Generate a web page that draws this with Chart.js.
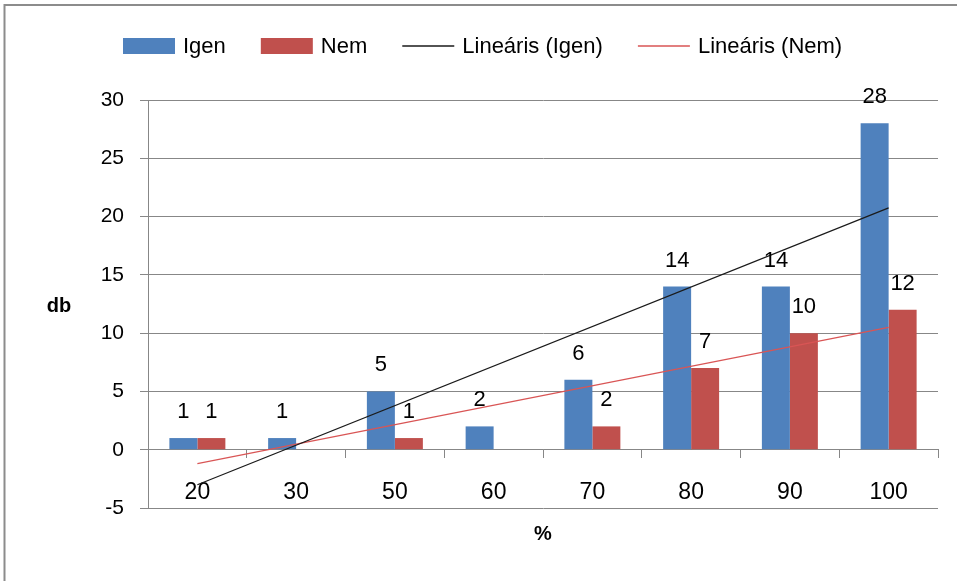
<!DOCTYPE html>
<html><head><meta charset="utf-8">
<script src="https://cdn.jsdelivr.net/npm/chart.js@4/dist/chart.umd.min.js"></script>
<style>html,body{margin:0;padding:0;background:#fff}#wrap{width:957px;height:581px;position:relative}</style>
</head><body><div id="wrap"><canvas id="c"></canvas></div>
<script>
const categories = ['20', '30', '50', '60', '70', '80', '90', '100'];
const igenValues = [1, 1, 5, 2, 6, 14, 14, 28];
const nemValues = [1, null, 1, null, 2, 7, 10, 12];
const trendIgen = [-3, null, null, null, null, null, null, 20.75];
const trendNem = [-1.2, null, null, null, null, null, null, 10.5];
const seriesNames = ['Igen', 'Nem', 'Lineáris (Igen)', 'Lineáris (Nem)'];
const yTicks = { min: -5, max: 30, step: 5 };
const yTitle = 'db';
const xTitle = '%';

const BLUE = '#4F81BD', RED = '#C0504D', BLACK = '#1a1a1a', TRED = '#D95555';
const FONT = '"Liberation Sans", Arial, sans-serif';

const framePlugin = {
  id: 'frame',
  beforeDraw(chart) {
    const ctx = chart.ctx;
    ctx.save();
    ctx.fillStyle = '#fff';
    ctx.fillRect(0, 0, chart.width, chart.height);
    ctx.strokeStyle = '#8c8c8c';
    ctx.lineWidth = 2;
    ctx.beginPath();
    ctx.moveTo(4.5, chart.height + 5);
    ctx.lineTo(4.5, 5);
    ctx.lineTo(chart.width + 5, 5);
    ctx.stroke();
    ctx.restore();
  }
};

const legendPlugin = {
  id: 'customLegend',
  afterDraw(chart) {
    const ctx = chart.ctx;
    ctx.save();
    ctx.font = '22px ' + FONT;
    ctx.textBaseline = 'middle';
    ctx.textAlign = 'left';
    let x = 123;
    const y = 46;
    chart.data.datasets.forEach((ds) => {
      if (ds.type === 'line') {
        ctx.strokeStyle = ds.borderColor;
        ctx.lineWidth = 1.5;
        ctx.beginPath();
        ctx.moveTo(x, y);
        ctx.lineTo(x + 52, y);
        ctx.stroke();
      } else {
        ctx.fillStyle = ds.backgroundColor;
        ctx.fillRect(x, y - 8, 52, 16);
      }
      x += 60;
      ctx.fillStyle = '#000';
      ctx.fillText(ds.label, x, y + 1);
      x += ctx.measureText(ds.label).width + 35;
    });
    // axis titles
    ctx.font = 'bold 20px ' + FONT;
    ctx.textAlign = 'center';
    ctx.fillText(yTitle, 59, 306);
    ctx.fillText(xTitle, 543, 534);
    ctx.restore();
  }
};

const labelPlugin = {
  id: 'barLabels',
  afterDatasetsDraw(chart) {
    const ctx = chart.ctx;
    ctx.save();
    ctx.font = '22px ' + FONT;
    ctx.fillStyle = '#000';
    ctx.textAlign = 'center';
    ctx.textBaseline = 'middle';
    chart.data.datasets.forEach((ds, i) => {
      if (ds.type !== 'bar') return;
      const meta = chart.getDatasetMeta(i);
      meta.data.forEach((el, j) => {
        const v = ds.data[j];
        if (v === null || v === undefined) return;
        ctx.fillText(String(v), el.x, el.y - 26);
      });
    });
    ctx.restore();
  }
};

new Chart(document.getElementById('c'), {
  data: {
    labels: categories,
    datasets: [
      { type: 'bar', label: seriesNames[0], data: igenValues, backgroundColor: BLUE, categoryPercentage: 0.567, barPercentage: 1.0, order: 2 },
      { type: 'bar', label: seriesNames[1], data: nemValues, backgroundColor: RED, categoryPercentage: 0.567, barPercentage: 1.0, order: 2 },
      { type: 'line', label: seriesNames[2], data: trendIgen, borderColor: BLACK, borderWidth: 1.2, pointRadius: 0, spanGaps: true, fill: false, order: 1 },
      { type: 'line', label: seriesNames[3], data: trendNem, borderColor: TRED, borderWidth: 1.2, pointRadius: 0, spanGaps: true, fill: false, order: 1 }
    ]
  },
  options: {
    responsive: true,
    maintainAspectRatio: false,
    animation: false,
    layout: { padding: { left: 0, right: 19, top: 100, bottom: 73 } },
    plugins: { legend: { display: false }, tooltip: { enabled: false }, title: { display: false } },
    scales: {
      x: {
        position: { y: 0 },
        grid: { display: true, drawOnChartArea: false, drawTicks: true, tickLength: 8, color: '#878787', offset: true },
        border: { display: true, color: '#878787', width: 1 },
        ticks: { color: '#000', font: { size: 23, family: FONT }, padding: 21, maxRotation: 0, autoSkip: false }
      },
      y: {
        min: yTicks.min, max: yTicks.max,
        afterFit(s) { s.width = 148; },
        grid: { color: '#878787', tickLength: 8, drawTicks: true },
        border: { display: true, color: '#878787', width: 1 },
        ticks: { stepSize: yTicks.step, color: '#000', font: { size: 21, family: FONT }, padding: 16 }
      }
    }
  },
  plugins: [framePlugin, legendPlugin, labelPlugin]
});
</script>
</body></html>
